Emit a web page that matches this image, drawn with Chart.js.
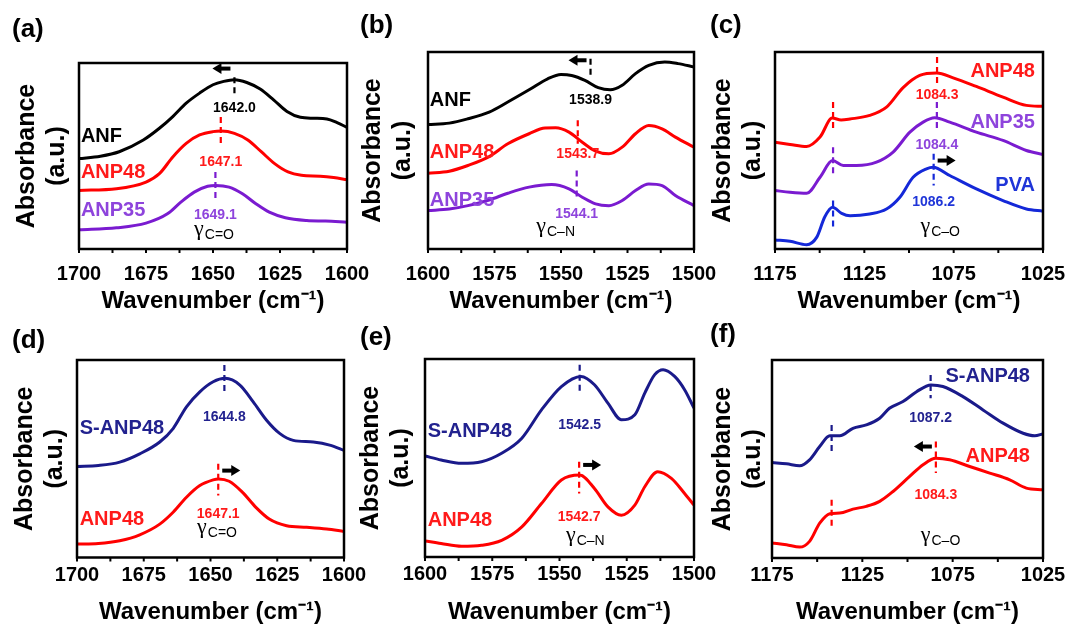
<!DOCTYPE html>
<html>
<head>
<meta charset="utf-8">
<script src="https://cdn.jsdelivr.net/npm/chart.js@4.4.1/dist/chart.umd.min.js"></script>
<style>
  html, body { margin: 0; padding: 0; background: #fff; }
  #fig { position: relative; width: 1072px; height: 624px; overflow: hidden; }
  #fig canvas { position: absolute; left: 0; top: 0; }
</style>
</head>
<body>
<div id="fig"></div>
<script>
// ---- axis tick labels ----
const ticksCO = [1700, 1675, 1650, 1625, 1600];
const ticksCN = [1600, 1575, 1550, 1525, 1500];
const ticksCOH = [1175, 1125, 1075, 1025];

// ---- (a) C=O stretch ----
const aWnANF = [1700, 1692, 1685, 1676, 1670, 1665, 1660, 1655, 1650, 1646, 1642, 1637.4, 1632.4, 1627.4, 1622.4, 1617.4, 1612.5, 1607.5, 1603.7, 1600];
const aAbsANF = [48.6, 49.9, 52.3, 58.6, 64.9, 71.2, 78.4, 83.8, 88.3, 90.1, 91, 89.5, 86, 80.2, 73.9, 70.8, 70.3, 69.9, 67.9, 65.4];
const aWnANP48 = [1700, 1686, 1675, 1670, 1665, 1660, 1655, 1650, 1647, 1642, 1637, 1632, 1627, 1622, 1617, 1610, 1605, 1600];
const aAbsANP48 = [31.5, 32.4, 36.0, 40.5, 49.5, 56.8, 61.3, 63.1, 63.4, 62.2, 58.6, 52.3, 45.9, 41.4, 39.6, 39.1, 38.4, 37.3];
const aWnANP35 = [1700, 1686, 1675, 1667, 1662, 1657, 1652, 1649, 1644, 1639, 1634, 1629, 1623, 1615, 1608, 1600];
const aAbsANP35 = [10.3, 11.4, 13.9, 18.9, 25.2, 30.6, 33.7, 34.2, 33.3, 29.7, 24.3, 19.8, 16.8, 15.3, 15.0, 14.4];
const aPeaks = [1642.0, 1647.1, 1649.1];

// ---- (b) C-N stretch ----
const bWnANF = [1600, 1592, 1585, 1577, 1570, 1562, 1555, 1550, 1546, 1541, 1536, 1531.5, 1527, 1522, 1517, 1511, 1506, 1500];
const bAbsANF = [63.2, 63.9, 66.1, 69.5, 74.6, 80.8, 86.4, 88.6, 88.1, 85.6, 81.9, 80.8, 83.1, 89, 93.2, 94.9, 94.1, 92.4];
const bWnANP48 = [1600, 1592, 1585, 1577, 1570, 1562, 1556, 1552, 1547, 1542, 1537, 1532, 1527, 1522, 1517, 1512, 1507, 1500];
const bAbsANP48 = [38.5, 39.5, 42.4, 46.9, 53.4, 58.5, 61.4, 61.5, 59.3, 54.2, 49.7, 48.3, 51.7, 58.5, 62.7, 61, 56.8, 51.7];
const bWnANP35 = [1600, 1592, 1585, 1577, 1570, 1562, 1553.5, 1547, 1542, 1537, 1532, 1527, 1522, 1517, 1512, 1507, 1500];
const bAbsANP35 = [19.5, 20.3, 22, 24.9, 28.3, 31.4, 32.7, 30.5, 26.3, 22.9, 22, 24.6, 29.7, 33, 32.2, 27.1, 22];
const bPeaks = [1538.9, 1543.7, 1544.1];

// ---- (c) C-O stretch ----
const cWnANP48 = [1175, 1166.6, 1157.3, 1149.8, 1143, 1138, 1133, 1122, 1112.6, 1103.3, 1094, 1084.5, 1075.3, 1062.3, 1047.4, 1034.3, 1025];
const cAbsANP48 = [54.2, 53.1, 52, 56.8, 66.5, 65.5, 66, 67.8, 72, 81.9, 88.1, 89.3, 86.9, 82.5, 77.1, 72.9, 72.4];
const cWnANP35 = [1175, 1166.6, 1157.3, 1149.8, 1142.8, 1136.8, 1129.4, 1118.2, 1108.9, 1099.5, 1092.1, 1085.6, 1077.2, 1062.3, 1047.4, 1034.3, 1025];
const cAbsANP35 = [29.7, 28.8, 28.3, 36.4, 44.9, 42.4, 42.4, 44.1, 49.2, 59.3, 64.4, 66.6, 64.4, 59.3, 55.1, 50, 48];
const cWnPVA = [1175, 1166.6, 1157.3, 1151.7, 1147.1, 1142.8, 1137.7, 1133, 1122, 1112.6, 1105.1, 1097.7, 1090.2, 1086.5, 1077.2, 1062.3, 1047.4, 1034.3, 1025];
const cAbsPVA = [4.6, 3.9, 2.2, 5.9, 16.4, 21.2, 18.1, 16.9, 17.8, 20.3, 26.3, 36.4, 40.7, 41.5, 37.3, 30.5, 24.6, 20.3, 19.2];
const cPeaks = [1084.3, 1084.4, 1086.2];
const cShoulder = 1142.5;

// ---- (d) C=O stretch, soaked vs. dry ----
const dWnSANP48 = [1700, 1692, 1684, 1676.5, 1669, 1664, 1659, 1654, 1649, 1644.5, 1639, 1634, 1629, 1624, 1619, 1611.5, 1605, 1600];
const dAbsSANP48 = [46.1, 46.6, 48.3, 52.5, 58.5, 65.3, 76.3, 83.9, 89, 90.7, 87.3, 78.8, 69.5, 62.7, 59.3, 58.5, 56.8, 54.2];
const dWnANP48 = [1700, 1692, 1684, 1676.5, 1669, 1664, 1659, 1654, 1649, 1647, 1643, 1638, 1633, 1628, 1621.5, 1614, 1606.5, 1600];
const dAbsANP48 = [6.8, 7.1, 8.5, 11.5, 16.9, 22.9, 30.5, 36.4, 39.3, 39.8, 38.6, 33, 25.4, 19.5, 16.1, 15.3, 14.4, 13.2];
const dPeaks = [1644.8, 1647.1];

// ---- (e) C-N stretch, soaked vs. dry ----
const eWnSANP48 = [1600, 1594, 1586.4, 1579, 1571.5, 1564, 1556.7, 1549.3, 1542, 1537, 1532, 1527, 1522, 1518.3, 1514.6, 1511.5, 1507.2, 1503.5, 1500];
const eAbsSANP48 = [51, 49, 47.3, 48.1, 52.4, 60, 74.3, 86.1, 91.2, 87, 77.7, 69.3, 71.8, 82.8, 92.1, 94.6, 91.2, 84.5, 75.2];
const eWnANP48 = [1600, 1594, 1586.4, 1579, 1571.5, 1564, 1556.7, 1549.3, 1542.5, 1537, 1532, 1527, 1522, 1518.3, 1513.5, 1508.4, 1503.5, 1500];
const eAbsANP48 = [8.1, 6.8, 5.4, 5.9, 8.4, 15.2, 27, 38.9, 41.4, 34.6, 25.3, 21.1, 26.2, 35.5, 43.1, 39.7, 32.1, 26.2];
const ePeaks = [1542.5, 1542.7];

// ---- (f) C-O stretch, soaked vs. dry ----
const fWnSANP48 = [1175, 1167, 1159.7, 1154.2, 1148.6, 1143, 1137.5, 1130.2, 1122.8, 1115.4, 1110, 1102.5, 1095, 1087, 1080.4, 1069.3, 1058.2, 1047.1, 1036, 1029.6, 1025];
const fAbsSANP48 = [48.2, 47.6, 46.6, 49.6, 56.3, 61.7, 61.7, 65.5, 67.2, 70.6, 75.6, 79, 84, 87.4, 86.6, 81.5, 74.8, 68.1, 63, 61.7, 62.7];
const fWnANP48 = [1175, 1167, 1159.7, 1154.2, 1148.6, 1143, 1137.5, 1130.2, 1122.8, 1115.4, 1108, 1098.8, 1091.4, 1084.3, 1076.7, 1065.6, 1054.5, 1043.4, 1034.2, 1025];
const fAbsANP48 = [7.6, 6.7, 5.5, 8.4, 17.6, 22.4, 22.7, 24.7, 26.1, 28.6, 33.6, 41.2, 47.1, 50.4, 49.6, 46.2, 42.9, 39.5, 35.3, 34.5];
const fPeaks = [1087.2, 1084.3];
const fShoulder = 1142;

const FONT = '"Liberation Sans", Arial, sans-serif';
const BLACK = '#000000';
const RED = { line: '#ff0000', text: '#ff1a1a' };
const PURPLE = { line: '#7a1bd0', text: '#8e44dc' };
const BLUE = { line: '#1428d8', text: '#1f35d8' };
const NAVY = { line: '#1a1a8a', text: '#22228f' };
const INK = { line: BLACK, text: BLACK };

Chart.defaults.font.family = FONT;

const panels = [
  {
    id: 'a', tag: '(a)', tagAt: [12, 30], range: [1600, 1700], ticks: ticksCO, tickPad: 13,
    frame: { colLeft: 12, left: 79, right: 347, top: 63, bottom: 249, axisBottom: 313 },
    band: { sub: 'C=O', x: 1649.8, y: 8 },
    series: [
      { name: 'ANF', x: aWnANF, y: aAbsANF, c: INK, nameAt: [1699.3, 60.5], align: 'left', peak: aPeaks[0], dash: [92.4, 81.6], valueY: 75.7 },
      { name: 'ANP48', x: aWnANP48, y: aAbsANP48, c: RED, nameAt: [1699.3, 41.4], align: 'left', peak: aPeaks[1], dash: [71, 55], valueY: 46.8 },
      { name: 'ANP35', x: aWnANP35, y: aAbsANP35, c: PURPLE, nameAt: [1699.3, 20.7], align: 'left', peak: aPeaks[2], dash: [41.4, 26.1], valueY: 18 }
    ],
    arrow: { series: 0, y: 97, dir: -1 }
  },
  {
    id: 'b', tag: '(b)', tagAt: [360, 26], range: [1500, 1600], ticks: ticksCN, tickPad: 13,
    frame: { colLeft: 358, left: 428, right: 694, top: 52, bottom: 249, axisBottom: 313 },
    band: { sub: 'C\u2013N', x: 1552.2, y: 9.3 },
    series: [
      { name: 'ANF', x: bWnANF, y: bAbsANF, c: INK, nameAt: [1599.3, 75.4], align: 'left', peak: bPeaks[0], dash: [96.6, 86.4], valueY: 75.4 },
      { name: 'ANP48', x: bWnANP48, y: bAbsANP48, c: RED, nameAt: [1599.3, 49.2], align: 'left', peak: bPeaks[1], dash: [65.3, 53.4], valueY: 48.3 },
      { name: 'ANP35', x: bWnANP35, y: bAbsANP35, c: PURPLE, nameAt: [1599.3, 24.6], align: 'left', peak: bPeaks[2], dash: [39.8, 24.6], valueY: 17.8 }
    ],
    arrow: { series: 0, y: 95.8, dir: -1 }
  },
  {
    id: 'c', tag: '(c)', tagAt: [710, 26], range: [1025, 1175], ticks: ticksCOH, tickPad: 13,
    frame: { colLeft: 708, left: 775, right: 1043, top: 52, bottom: 249, axisBottom: 313 },
    band: { sub: 'C\u2013O', x: 1082.8, y: 9.3 },
    shoulder: cShoulder,
    series: [
      { name: 'ANP48', x: cWnANP48, y: cAbsANP48, c: RED, nameAt: [1029.5, 90.3], align: 'right', peak: cPeaks[0], dash: [97.5, 83.9], valueY: 78, shoulderDash: [74.6, 61] },
      { name: 'ANP35', x: cWnANP35, y: cAbsANP35, c: PURPLE, nameAt: [1029.5, 64.4], align: 'right', peak: cPeaks[1], dash: [74.6, 61], valueY: 52.5, shoulderDash: [51.7, 38.1] },
      { name: 'PVA', x: cWnPVA, y: cAbsPVA, c: BLUE, nameAt: [1029.5, 32.2], align: 'right', peak: cPeaks[2], dash: [48.3, 32.2], valueY: 23.7, shoulderDash: [24.6, 10.2] }
    ],
    arrow: { series: 2, y: 44.9, dir: 1 }
  },
  {
    id: 'd', tag: '(d)', tagAt: [12, 341], range: [1600, 1700], ticks: ticksCO, tickPad: 5.5,
    frame: { colLeft: 10, left: 77, right: 344, top: 360, bottom: 557.5, axisBottom: 624 },
    band: { sub: 'C=O', x: 1647.75, y: 12.7 },
    series: [
      { name: 'S-ANP48', x: dWnSANP48, y: dAbsSANP48, c: NAVY, nameAt: [1699, 65.3], align: 'left', peak: dPeaks[0], dash: [97.5, 83], valueY: 71.2 },
      { name: 'ANP48', x: dWnANP48, y: dAbsANP48, c: RED, nameAt: [1699, 19.5], align: 'left', peak: dPeaks[1], dash: [47.5, 31.4], valueY: 22 }
    ],
    arrow: { series: 1, y: 44, dir: 1 }
  },
  {
    id: 'e', tag: '(e)', tagAt: [360, 338], range: [1500, 1600], ticks: ticksCN, tickPad: 5.5,
    frame: { colLeft: 356, left: 425, right: 694, top: 359, bottom: 557, axisBottom: 624 },
    band: { sub: 'C\u2013N', x: 1540.6, y: 8.4 },
    series: [
      { name: 'S-ANP48', x: eWnSANP48, y: eAbsSANP48, c: NAVY, nameAt: [1599, 63.3], align: 'left', peak: ePeaks[0], dash: [97.1, 82.8], valueY: 66.7 },
      { name: 'ANP48', x: eWnANP48, y: eAbsANP48, c: RED, nameAt: [1599, 18.6], align: 'left', peak: ePeaks[1], dash: [48.1, 32.1], valueY: 20.3 }
    ],
    arrow: { series: 1, y: 46.5, dir: 1 }
  },
  {
    id: 'f', tag: '(f)', tagAt: [710, 335], range: [1025, 1175], ticks: ticksCOH, tickPad: 5.5,
    frame: { colLeft: 708, left: 772, right: 1043, top: 360, bottom: 558, axisBottom: 624 },
    band: { sub: 'C\u2013O', x: 1082, y: 9.2 },
    shoulder: fShoulder,
    series: [
      { name: 'S-ANP48', x: fWnSANP48, y: fAbsSANP48, c: NAVY, nameAt: [1032.2, 91.6], align: 'right', peak: fPeaks[0], dash: [92.4, 80.7], valueY: 70.6, shoulderDash: [67.2, 52.9] },
      { name: 'ANP48', x: fWnANP48, y: fAbsANP48, c: RED, nameAt: [1032.2, 51.3], align: 'right', peak: fPeaks[1], dash: [58.8, 42.9], valueY: 31.9, shoulderDash: [29.4, 14.3] }
    ],
    arrow: { series: 1, y: 56.3, dir: -1 }
  }
];

function vDash(ctx, xs, ys, x, y0, y1, color) {
  const px = xs.getPixelForValue(x);
  ctx.save();
  ctx.strokeStyle = color;
  ctx.lineWidth = 2.2;
  ctx.setLineDash([6, 4]);
  ctx.beginPath();
  ctx.moveTo(px, ys.getPixelForValue(y0));
  ctx.lineTo(px, ys.getPixelForValue(y1));
  ctx.stroke();
  ctx.restore();
}

function text(ctx, str, x, y, font, color, align) {
  ctx.font = font;
  ctx.fillStyle = color;
  ctx.textAlign = align || 'center';
  ctx.textBaseline = 'middle';
  ctx.fillText(str, x, y);
}

// short fat arrow showing the direction of the peak shift
function shiftArrow(ctx, px, py, dir) {
  const x0 = px + dir * 4, x1 = x0 + dir * 18;
  ctx.save();
  ctx.fillStyle = BLACK;
  ctx.fillRect(Math.min(x0, x1 - dir * 8), py - 2, 10, 4);
  ctx.beginPath();
  ctx.moveTo(x1, py);
  ctx.lineTo(x1 - dir * 9, py - 5.5);
  ctx.lineTo(x1 - dir * 9, py + 5.5);
  ctx.closePath();
  ctx.fill();
  ctx.restore();
}

// gamma with the bond written as a subscript
function bandLabel(ctx, sub, cx, cy) {
  const g = '22px "Liberation Serif", serif';
  const s = '14px ' + FONT;
  ctx.textAlign = 'left';
  ctx.textBaseline = 'alphabetic';
  ctx.fillStyle = BLACK;
  ctx.font = g;
  const wg = ctx.measureText('\u03b3').width;
  ctx.font = s;
  const ws = ctx.measureText(sub).width;
  const x0 = cx - (wg + ws) / 2;
  ctx.font = g;
  ctx.fillText('\u03b3', x0, cy + 1);
  ctx.font = s;
  ctx.fillText(sub, x0 + wg + 1, cy + 5);
}

function marks(p) {
  return {
    id: 'marks_' + p.id,
    afterDatasetsDraw(chart) {
      const ctx = chart.ctx;
      const xs = chart.scales.x, ys = chart.scales.y;
      const a = chart.chartArea;
      ctx.save();

      // frame around the plot
      ctx.strokeStyle = BLACK;
      ctx.lineWidth = 2.5;
      ctx.strokeRect(a.left, a.top, a.right - a.left, a.bottom - a.top);

      // outward ticks: labelled ones plus the midpoints between them
      const vals = xs.ticks.map(t => t.value);
      const all = vals.slice();
      for (let i = 1; i < vals.length; i++) all.push((vals[i - 1] + vals[i]) / 2);
      ctx.lineWidth = 2;
      all.forEach(v => {
        const px = xs.getPixelForValue(v);
        ctx.beginPath();
        ctx.moveTo(px, a.bottom);
        ctx.lineTo(px, a.bottom + 4);
        ctx.stroke();
      });

      p.series.forEach(s => {
        vDash(ctx, xs, ys, s.peak, s.dash[0], s.dash[1], s.c.line);
        if (s.shoulderDash) vDash(ctx, xs, ys, p.shoulder, s.shoulderDash[0], s.shoulderDash[1], s.c.line);
        text(ctx, s.peak.toFixed(1), xs.getPixelForValue(s.peak), ys.getPixelForValue(s.valueY), 'bold 14px ' + FONT, s.c.text);
        text(ctx, s.name, xs.getPixelForValue(s.nameAt[0]), ys.getPixelForValue(s.nameAt[1]), 'bold 20px ' + FONT, s.c.text, s.align);
      });

      const ar = p.arrow;
      shiftArrow(ctx, xs.getPixelForValue(p.series[ar.series].peak), ys.getPixelForValue(ar.y), ar.dir);

      bandLabel(ctx, p.band.sub, xs.getPixelForValue(p.band.x), ys.getPixelForValue(p.band.y));

      text(ctx, p.tag, p.tagAt[0], p.tagAt[1], 'bold 26px ' + FONT, BLACK, 'left');
      ctx.restore();
    }
  };
}

function buildPanel(p) {
  const canvas = document.createElement('canvas');
  canvas.width = 1072;
  canvas.height = 624;
  document.getElementById('fig').appendChild(canvas);
  const f = p.frame;

  new Chart(canvas.getContext('2d'), {
    type: 'line',
    data: {
      datasets: p.series.map(s => ({
        label: s.name,
        data: s.x.map((v, i) => ({ x: v, y: s.y[i] })),
        borderColor: s.c.line,
        borderWidth: 3,
        pointRadius: 0,
        fill: false,
        cubicInterpolationMode: 'monotone'
      }))
    },
    options: {
      responsive: false,
      animation: false,
      events: [],
      layout: { padding: { left: f.colLeft, top: f.top, right: 1072 - f.right, bottom: 624 - f.axisBottom } },
      plugins: { legend: { display: false }, tooltip: { enabled: false } },
      scales: {
        x: {
          type: 'linear',
          reverse: true,
          min: p.range[0],
          max: p.range[1],
          afterBuildTicks: s => { s.ticks = p.ticks.map(v => ({ value: v })); },
          afterFit: s => { s.height = f.axisBottom - f.bottom; s.paddingLeft = 0; s.paddingRight = 0; },
          grid: { display: false, drawTicks: false },
          border: { display: false },
          ticks: {
            autoSkip: false, maxRotation: 0, padding: p.tickPad, color: BLACK,
            font: { family: FONT, size: 20, weight: 'bold' },
            callback: v => String(v)
          },
          title: {
            display: true, text: 'Wavenumber (cm\u207b\u00b9)', color: BLACK, padding: 0,
            font: { family: FONT, size: 24, weight: 'bold', lineHeight: 1 }
          }
        },
        y: {
          min: 0,
          max: 100,
          afterFit: s => { s.width = f.left - f.colLeft; },
          grid: { display: false, drawTicks: false },
          border: { display: false },
          ticks: { display: false },
          title: {
            display: true, text: ['Absorbance', '(a.u.)'], color: BLACK, padding: 0,
            font: { family: FONT, size: 25, weight: 'bold', lineHeight: 1.2 }
          }
        }
      }
    },
    plugins: [marks(p)]
  });
}

panels.forEach(buildPanel);
</script>
</body>
</html>
